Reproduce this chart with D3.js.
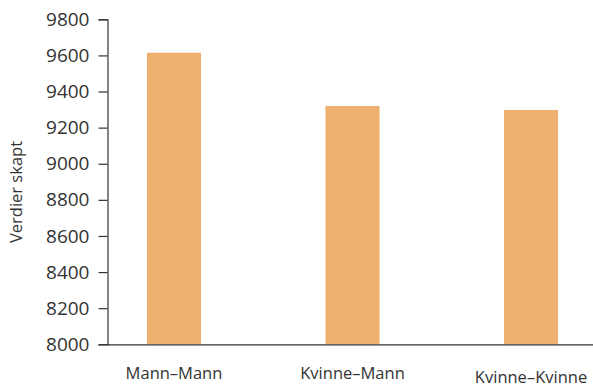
<!DOCTYPE html>
<html>
<head>
<meta charset="utf-8">
<script src="https://cdn.jsdelivr.net/npm/d3@7"></script>
<style>
  html, body { margin: 0; padding: 0; background: #fff; }
  svg text { font-family: "Open Sans", "Noto Sans", sans-serif; fill: #333; }
</style>
</head>
<body>
<svg id="chart" width="593" height="387"></svg>
<script>
const categories = ["Mann–Mann", "Kvinne–Mann", "Kvinne–Kvinne"];
const values = [9615, 9320, 9298];
const yTicks = [8000, 8200, 8400, 8600, 8800, 9000, 9200, 9400, 9600, 9800];
const yTitle = "Verdier skapt";

const svg = d3.select("#chart");
const mLeft = 107.5, mTop = 19.3, mBottom = 344.3, mRight = 597.5;

const x = d3.scaleBand().domain(categories).range([mLeft, mRight])
  .paddingInner(0.697).paddingOuter(0.221);
const y = d3.scaleLinear().domain([8000, 9800]).range([mBottom, mTop]);

svg.append("g").selectAll("rect").data(values).join("rect")
  .attr("x", (d, i) => x(categories[i]))
  .attr("width", x.bandwidth())
  .attr("y", d => y(d))
  .attr("height", d => y(8000) - y(d))
  .attr("fill", "#edb06f");

const yAxis = svg.append("g").attr("transform", `translate(${mLeft},0)`)
  .call(d3.axisLeft(y).tickValues(yTicks).tickSize(9).tickPadding(9).tickFormat(d3.format("d")));
yAxis.selectAll("text").style("font-size", "19px").attr("fill", "#333");
yAxis.selectAll("line, path").attr("stroke", "#333").attr("stroke-width", 1.2);

const xAxis = svg.append("g").attr("transform", `translate(0,${mBottom})`)
  .call(d3.axisBottom(x).tickSize(0).tickPadding(22));
xAxis.select("path").attr("d", `M${mLeft},0.5H593`).attr("stroke", "#333").attr("stroke-width", 1.2);
xAxis.selectAll("text").style("font-size", "16.5px").attr("fill", "#333")
  .attr("dy", (d, i) => i === 2 ? "1.0em" : "0.8em");

svg.append("text")
  .attr("transform", `translate(22,192) rotate(-90)`)
  .attr("text-anchor", "middle")
  .style("font-size", "16.5px")
  .text(yTitle);
</script>
</body>
</html>
